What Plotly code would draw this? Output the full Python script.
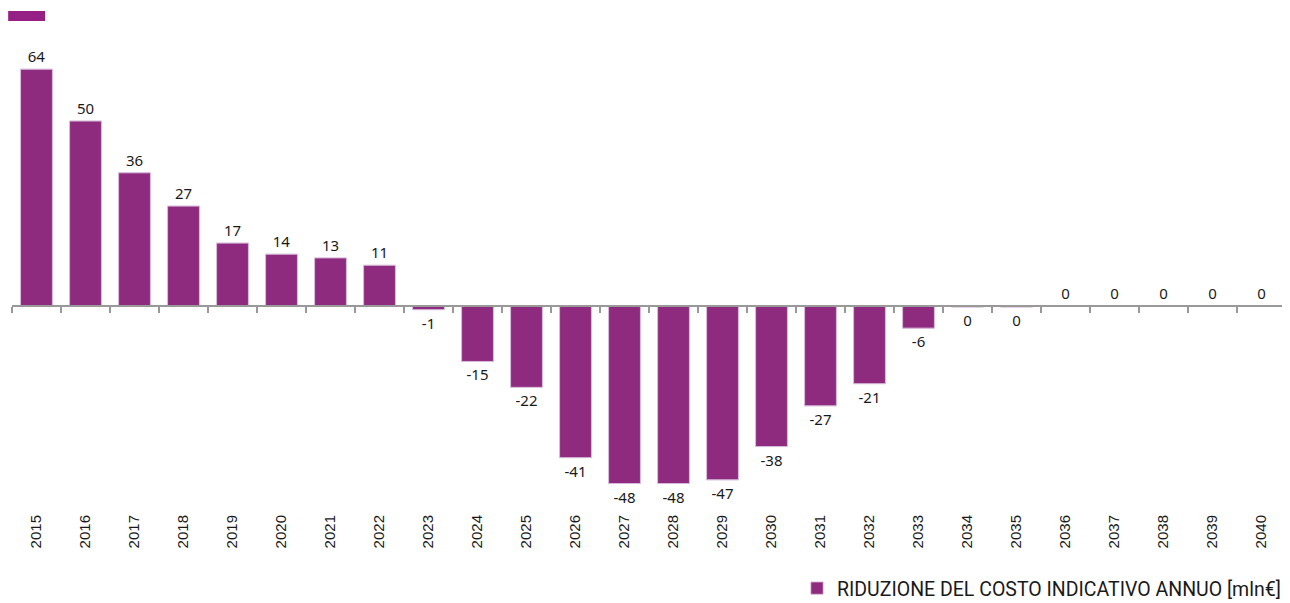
import plotly.graph_objects as go

# Annual indicative cost reduction by year
years = [str(y) for y in range(2015, 2041)]
values = [64, 50, 36, 27, 17, 14, 13, 11, -1, -15, -22, -41, -48, -48, -47,
          -38, -27, -21, -6, -0.3, -0.3, 0, 0, 0, 0, 0]
labels = [str(int(round(v))) for v in values]

series_name = "RIDUZIONE DEL COSTO INDICATIVO ANNUO [mln€]"
purple = "#8E2B7E"

y_min, y_max = -53.8, 77.3
zero_pos = (0 - y_min) / (y_max - y_min)  # paper fraction of the zero line

fig = go.Figure()

# Main bars (x axis at bottom carries the year labels)
fig.add_trace(go.Bar(
    x=years, y=values, name=series_name,
    marker=dict(color=purple, line=dict(color="#c48abb", width=0.8)),
    text=labels, textposition="outside", cliponaxis=False,
    textfont=dict(size=15, color="#1a1a1a"),
))

# Invisible copy on a second x axis that draws the line + ticks at zero
fig.add_trace(go.Bar(
    x=years, y=values, xaxis="x2", showlegend=False,
    marker_color="rgba(0,0,0,0)", hoverinfo="skip",
))

# page body has an 8px margin, so the figure is 8px smaller each way
fig.update_layout(
    width=1282, height=595,
    margin=dict(l=4, r=4, t=12, b=98, autoexpand=False),
    plot_bgcolor="white", paper_bgcolor="white",
    font=dict(family="Noto Sans", color="#1a1a1a"),
    bargap=0.35,
    showlegend=True,
    legend=dict(
        x=1.0, xanchor="right", y=-0.172, yanchor="middle",
        font=dict(family="Roboto", size=19.5, color="#1a1a1a"),
        itemwidth=30,
    ),
    xaxis=dict(
        type="category", showline=False, ticks="", showgrid=False,
        tickangle=-90,
        tickfont=dict(family="Liberation Sans", size=15, color="#1a1a1a"),
        ticklabelstandoff=6,
    ),
    xaxis2=dict(
        type="category", overlaying="x", anchor="free", position=zero_pos,
        side="bottom", showline=True, linecolor="#999999", linewidth=1.5,
        ticks="outside", tickson="boundaries", ticklen=6, tickcolor="#999999",
        tickwidth=1.5, showticklabels=False, showgrid=False,
    ),
    yaxis=dict(
        range=[y_min, y_max], visible=False, showgrid=False, zeroline=False,
    ),
    shapes=[dict(
        type="rect", xref="paper", yref="paper",
        x0=-0.003, x1=0.0259, y0=0.998, y1=1.0186,
        fillcolor="#951F85", line=dict(width=0),
    )],
)

fig.write_html("out.html")
